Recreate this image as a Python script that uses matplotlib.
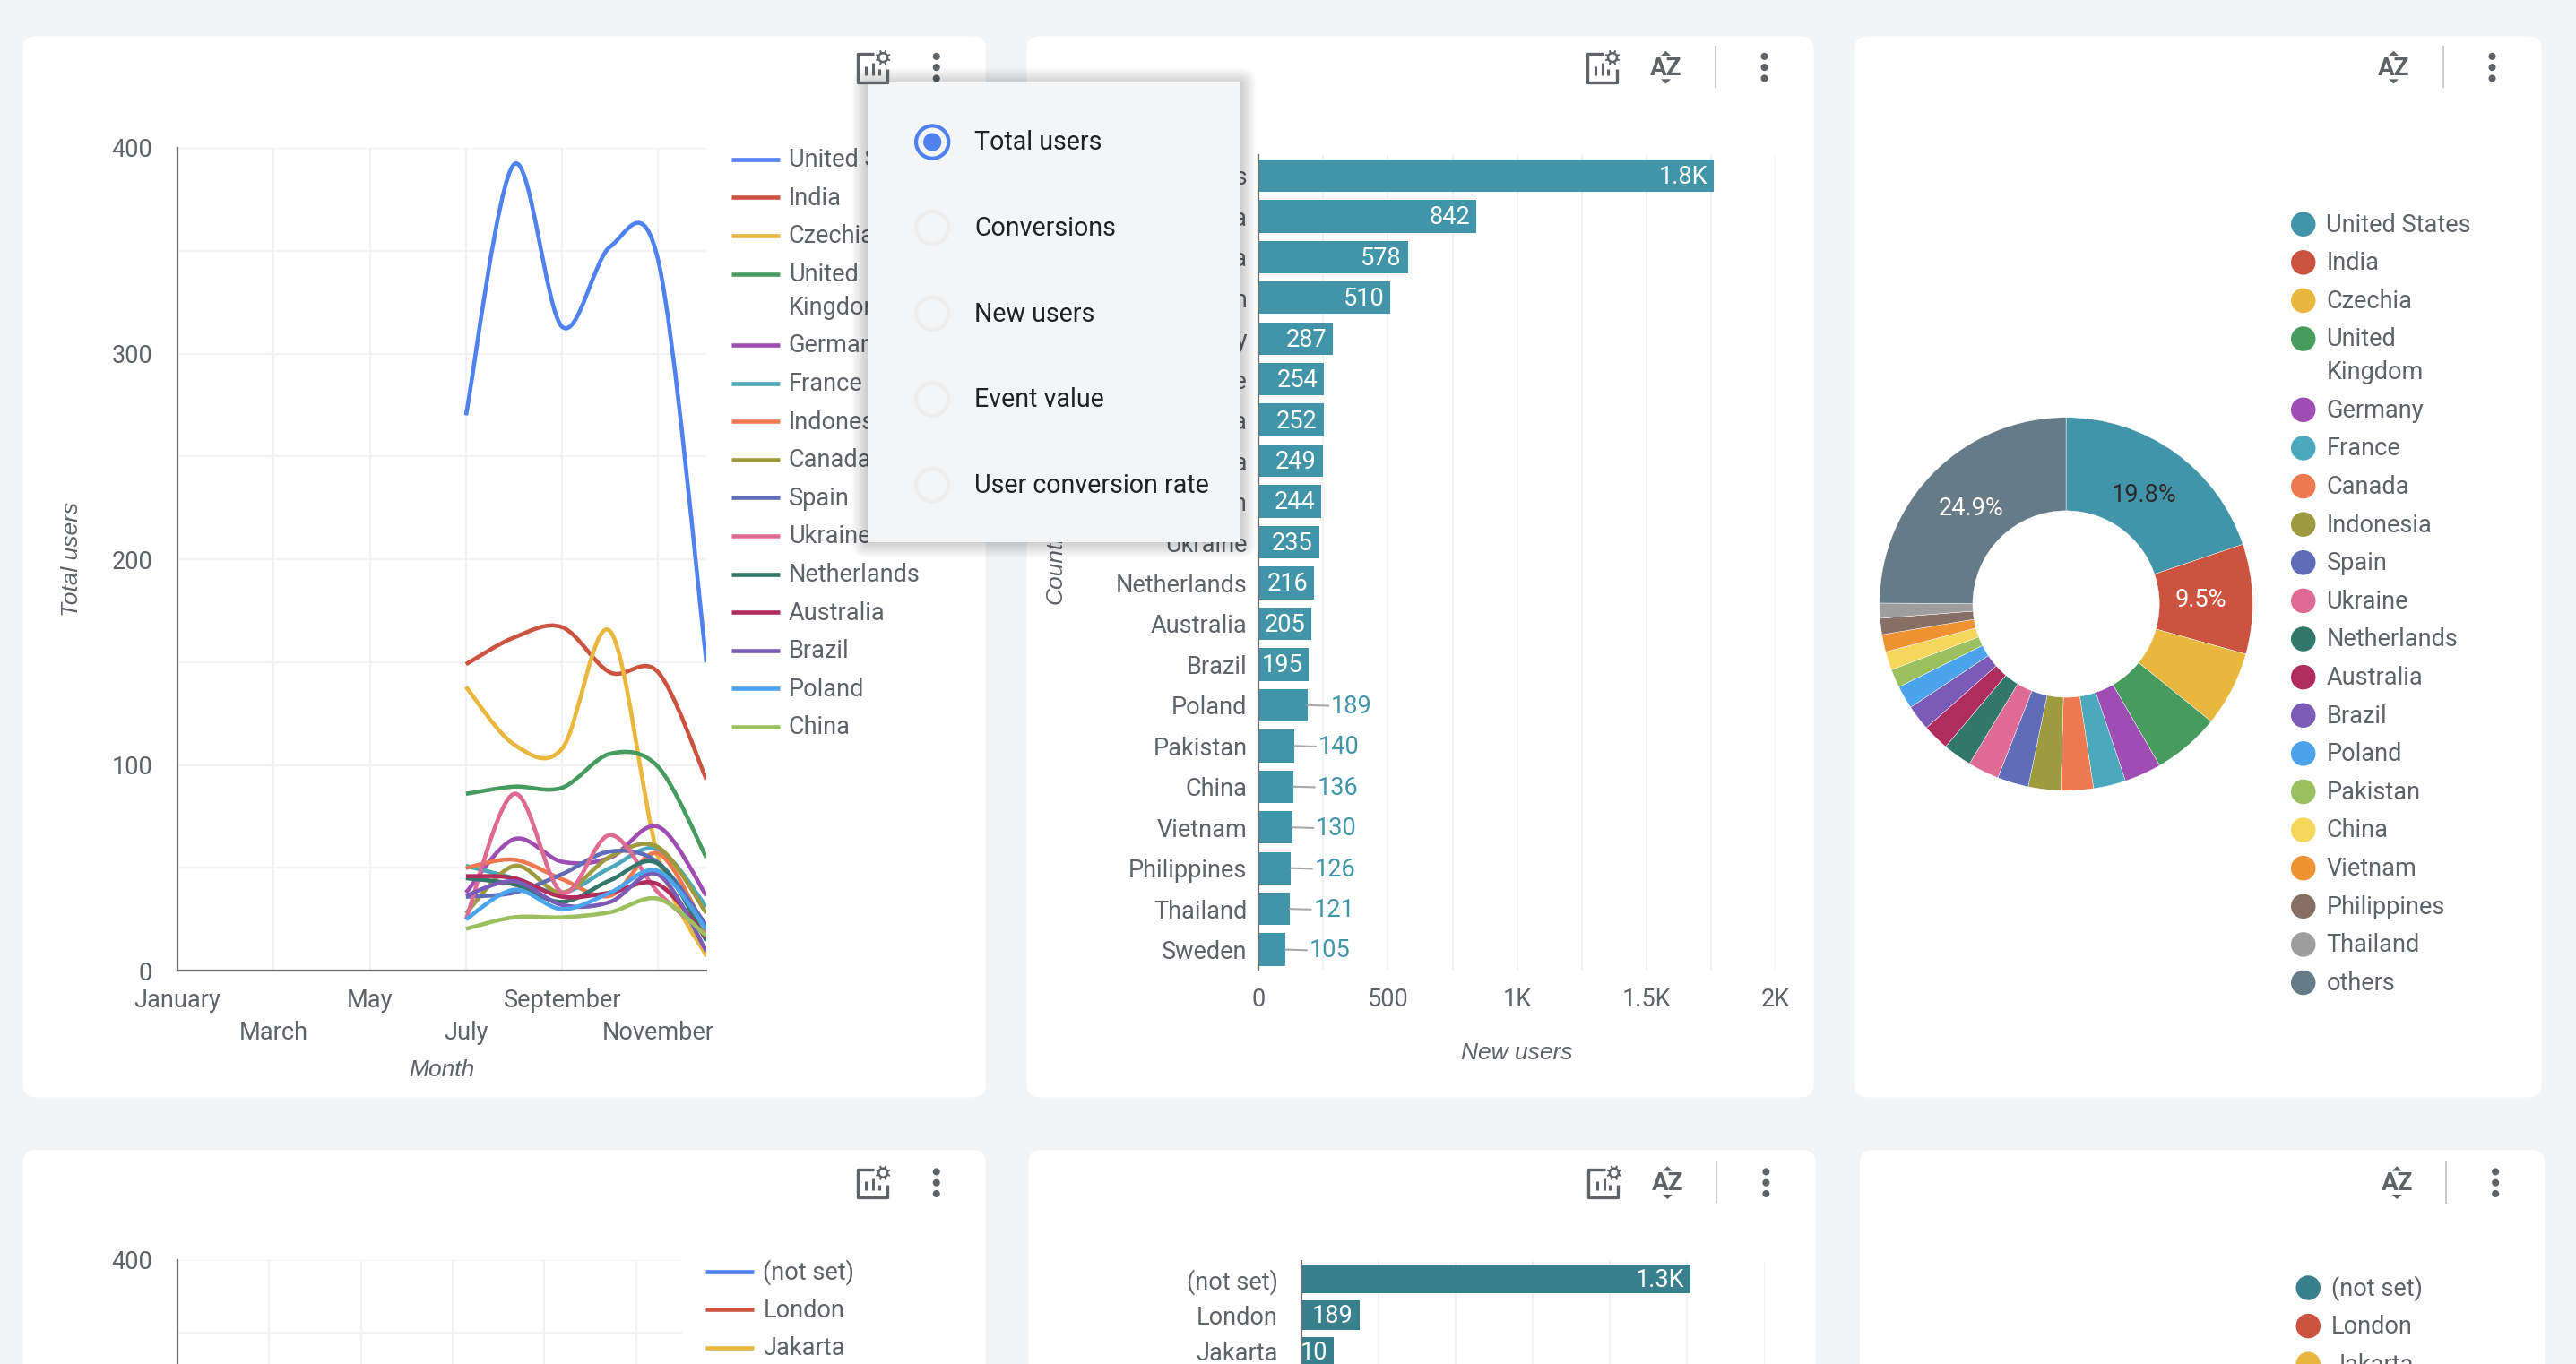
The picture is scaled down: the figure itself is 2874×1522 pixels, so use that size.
import math
import matplotlib
matplotlib.use("Agg")
import matplotlib.pyplot as plt
from matplotlib.patches import FancyBboxPatch, PathPatch, Circle, Rectangle, Polygon
from matplotlib.path import Path

plt.rcParams['font.family'] = ['Roboto', 'DejaVu Sans']

# data
months = ['January', 'March', 'May', 'July', 'September', 'November']
month_idx = [6, 7, 8, 9, 10, 11]   # July .. December

line_names = ['United States', 'India', 'Czechia', 'United Kingdom', 'Germany', 'France',
              'Indonesia', 'Canada', 'Spain', 'Ukraine', 'Netherlands', 'Australia',
              'Brazil', 'Poland', 'China']
line_colors = ['#4f82ee', '#cb5340', '#e9b63e', '#489b5f', '#9f4db2', '#4ba8bd',
               '#ee7850', '#9e9b3e', '#5f6cb8', '#df6a94', '#32786a', '#b02c5d',
               '#7a5bb8', '#4ba3ec', '#9bc05f']
us = [270, 392, 313, 352, 345, 150]
india = [149, 162, 167, 145, 145, 93]
czechia = [138, 110, 108, 165, 55, 7]
uk = [86, 89.5, 89, 105.5, 99, 55]
germany = [38, 64, 53, 55, 70, 36.5]
france = [51, 45, 38, 50, 59, 31]
indonesia = [50, 54, 44.5, 36.5, 57, 19]
canada = [28, 51, 38, 55.5, 60, 28]
spain = [36, 38, 47, 58, 52.5, 22]
ukraine = [25, 86, 38, 66, 38, 17.5]
netherlands = [45, 42, 33.5, 44, 52, 14.6]
australia = [46, 45, 36, 38, 42, 16]
brazil = [36.5, 43.5, 32, 33.5, 46.7, 9.5]
poland = [25, 39.4, 30, 38, 48.5, 20]
china = [20.4, 26, 26, 28.5, 35, 17]
line_series = [us, india, czechia, uk, germany, france, indonesia, canada, spain,
               ukraine, netherlands, australia, brazil, poland, china]

bar_names = ['United States', 'India', 'Czechia', 'United Kingdom', 'Germany', 'France',
             'Indonesia', 'Canada', 'Spain', 'Ukraine', 'Netherlands', 'Australia', 'Brazil',
             'Poland', 'Pakistan', 'China', 'Vietnam', 'Philippines', 'Thailand', 'Sweden']
bar_values = [1760, 842, 578, 510, 287, 254, 252, 249, 244, 235, 216, 205, 195,
              189, 140, 136, 130, 126, 121, 105]
bar_labels = ['1.8K', '842', '578', '510', '287', '254', '252', '249', '244', '235', '216',
              '205', '195', '189', '140', '136', '130', '126', '121', '105']

pie_names = ['United States', 'India', 'Czechia', 'United Kingdom', 'Germany', 'France',
             'Canada', 'Indonesia', 'Spain', 'Ukraine', 'Netherlands', 'Australia', 'Brazil',
             'Poland', 'Pakistan', 'China', 'Vietnam', 'Philippines', 'Thailand', 'others']
pie_values = [19.8, 9.5, 6.5, 5.8, 3.2, 2.8, 2.8, 2.8, 2.7, 2.7, 2.5, 2.3, 2.2, 2.0,
              1.6, 1.6, 1.5, 1.4, 1.3, 24.9]
pie_colors = ['#4295a8', '#cb5340', '#e9b63e', '#489b5f', '#9f4db2', '#4ba8bd', '#ee7850',
              '#9e9b3e', '#5f6cb8', '#df6a94', '#32786a', '#b02c5d', '#7a5bb8', '#4ba3ec',
              '#9bc05f', '#f5d75c', '#ee9232', '#876f66', '#9e9e9e', '#667b88']

city_names = ['(not set)', 'London', 'Jakarta']
city_values = [1261, 189, 106]
city_labels = ['1.3K', '189', '10']
city_line_colors = ['#4f82ee', '#cb5340', '#e9b63e']
city_pie_colors = ['#3a7f8e', '#cb5340', '#e9b63e']

menu_items = ['Total users', 'Conversions', 'New users', 'Event value', 'User conversion rate']

BG = '#f3f4f6'
TXT = '#5f6368'
GRID = '#f1f2f3'
AXIS = '#6f6f6f'
TEAL = '#4295a8'
FS = 19.5
LW = 3.3
W, H = 1568.0, 1568.0 * 1522 / 2874

fig = plt.figure(figsize=(28.74, 15.22), dpi=100, facecolor=BG)


def add_ax(left, top, right, bottom, z=1):
    return fig.add_axes([left / W, 1 - bottom / H, (right - left) / W, (bottom - top) / H],
                        facecolor='none', zorder=z)


def layer(z):
    a = fig.add_axes([0, 0, 1, 1], facecolor='none', zorder=z)
    a.set_xlim(0, W)
    a.set_ylim(H, 0)
    a.axis('off')
    return a


back = layer(0)
top = layer(5)


def card(x0, y0, x1, y1):
    back.add_patch(FancyBboxPatch((x0 + 8, y0 + 8), x1 - x0 - 16, y1 - y0 - 16,
                                  boxstyle='round,pad=8,rounding_size=8', fc='white', ec='none'))


def line_legend(x, y, names, colors, step=23.25):
    for n, c in zip(names, colors):
        back.plot([x, x + 29.5], [y, y], color=c, lw=LW, solid_capstyle='butt')
        parts = n.split(' ') if n == 'United Kingdom' else [n]
        for k, p in enumerate(parts):
            back.text(x + 35, y + 0.5 + k * 20, p, color=TXT, fontsize=FS, va='center')
        y += step + (len(parts) - 1) * 20


def dot_legend(x, y, names, colors, step=23.25):
    for n, c in zip(names, colors):
        back.add_patch(Circle((x, y), 7.5, fc=c, ec='none'))
        parts = n.split(' ') if n == 'United Kingdom' else [n]
        for k, p in enumerate(parts):
            back.text(x + 14, y + 0.5 + k * 20, p, color=TXT, fontsize=FS, va='center')
        y += step + (len(parts) - 1) * 20


def smooth(ax, xs, ys, color, k=1 / 6.0, z=3):
    # the source chart draws function curves, so each segment is a bezier
    verts = [(xs[0], ys[0])]
    codes = [Path.MOVETO]
    n = len(xs)
    for i in range(n - 1):
        a = max(i - 1, 0)
        b = min(i + 2, n - 1)
        verts.append((xs[i] + (xs[i + 1] - xs[a]) * k, ys[i] + (ys[i + 1] - ys[a]) * k))
        verts.append((xs[i + 1] - (xs[b] - xs[i]) * k, ys[i + 1] - (ys[b] - ys[i]) * k))
        verts.append((xs[i + 1], ys[i + 1]))
        codes += [Path.CURVE4] * 3
    ax.add_patch(PathPatch(Path(verts, codes), fill=False, ec=color, lw=LW,
                           capstyle='butt', zorder=z))


def style_axes(ax):
    for s in ['top', 'right']:
        ax.spines[s].set_visible(False)
    for s in ['left', 'bottom']:
        ax.spines[s].set_color(AXIS)
        ax.spines[s].set_linewidth(1.6)
    ax.tick_params(which='both', length=0, labelcolor=TXT, labelsize=FS)
    ax.grid(which='both', color=GRID, lw=1.6)
    ax.set_axisbelow(True)


def line_frame(ax, xlabels, ylabels):
    ax.set_xlim(0, 11)
    ax.set_ylim(0, 400)
    ax.set_xticks(range(0, 11, 2))
    ax.set_xticklabels(xlabels)
    ax.set_yticks(range(0, 401, 100))
    ax.set_yticklabels(ylabels)
    ax.set_yticks(range(50, 400, 100), minor=True)
    style_axes(ax)
    ax.tick_params(axis='y', pad=20)
    for i, t in enumerate(ax.xaxis.get_major_ticks()):
        t.set_pad(14 if i % 2 == 0 else 40)


def bars(ax, names, values, labels, color, inside_min, pad):
    ax.barh(range(len(values)), values, height=0.8, color=color, zorder=2)
    ax.set_yticks(range(len(names)))
    ax.set_yticklabels(names)
    style_axes(ax)
    ax.spines['bottom'].set_visible(False)
    ax.grid(axis='y', visible=False)
    ax.tick_params(axis='y', pad=pad)
    for i, (v, lab) in enumerate(zip(values, labels)):
        if v >= inside_min:
            ax.annotate(lab, (v, i), xytext=(-5, -1), textcoords='offset points', color='white',
                        fontsize=FS, ha='right', va='center', zorder=4)
        else:
            ax.annotate(lab, (v, i), xytext=(19, -1), textcoords='offset points', color=TEAL,
                        fontsize=FS, ha='left', va='center', zorder=4,
                        arrowprops=dict(arrowstyle='-', color='#a8a8a8', lw=1.5,
                                        shrinkA=0, shrinkB=0))


def chart_icon(x, y):
    c = '#5f6368'
    top.plot([x + 1, x - 9, x - 9, x + 9, x + 9], [y - 8, y - 8, y + 9, y + 9, y + 1],
             color=c, lw=2.4, solid_joinstyle='round', solid_capstyle='butt')
    for dx, h in [(-4, 5.5), (0.5, 7.5), (4, 3.6)]:
        top.plot([x + dx, x + dx], [y + 4.8, y + 4.8 - h], color=c, lw=2.2, solid_capstyle='butt')
    gx, gy = x + 6.5, y - 6
    for i in range(8):
        ang = i * math.pi / 4 + math.pi / 8
        top.plot([gx + 2.5 * math.cos(ang), gx + 4.6 * math.cos(ang)],
                 [gy + 2.5 * math.sin(ang), gy + 4.6 * math.sin(ang)], color=c, lw=1.5,
                 solid_capstyle='butt')
    top.add_patch(Circle((gx, gy), 2.7, fc='white', ec=c, lw=1.8))


def kebab(x, y):
    for dy in (-6.7, 0, 6.7):
        top.add_patch(Circle((x, y + dy), 2.2, fc='#5f6368', ec='none'))


def az_icon(x, y):
    c = '#5f6368'
    top.text(x, y + 0.5, 'AZ', color=c, fontsize=20, fontweight='bold', ha='center', va='center')
    top.add_patch(Polygon([(x - 3, y - 7.2), (x + 3, y - 7.2), (x, y - 10)], fc=c, ec='none'))
    top.add_patch(Polygon([(x - 3, y + 7.2), (x + 3, y + 7.2), (x, y + 10)], fc=c, ec='none'))


def divider(x, y):
    top.plot([x, x], [y - 12.5, y + 12], color='#c8cacc', lw=1.4)


# cards
card(14, 22, 600, 668)
card(625, 22, 1104, 668)
card(1129, 22, 1547, 668)
card(14, 700, 600, 880)
card(626, 700, 1105, 880)
card(1132, 700, 1549, 880)

# top left, total users by month
ax1 = add_ax(108, 90, 430, 591)
line_frame(ax1, months, ['0', '100', '200', '300', '400'])
for vals, col in zip(line_series, line_colors):
    smooth(ax1, month_idx, vals, col)
ax1.set_xlabel('Month', family='Liberation Sans', style='italic', color=TXT, fontsize=19, labelpad=12)
ax1.set_ylabel('Total users', family='Liberation Sans', style='italic', color=TXT, fontsize=19, labelpad=23)
line_legend(445, 97, line_names, line_colors)

# top middle, new users by country
ax2 = add_ax(766, 94.5, 1081, 590.5)
bars(ax2, bar_names, bar_values, bar_labels, TEAL, 190, 9)
ax2.set_xlim(0, 2000)
ax2.set_ylim(19.5, -0.5)
ax2.set_xticks(range(0, 2001, 500))
ax2.set_xticklabels(['0', '500', '1K', '1.5K', '2K'])
ax2.set_xticks(range(250, 2000, 500), minor=True)
ax2.tick_params(axis='x', pad=14)
ax2.set_xlabel('New users', family='Liberation Sans', style='italic', color=TXT, fontsize=19, labelpad=25)
ax2.set_ylabel('Country', family='Liberation Sans', style='italic', color=TXT, fontsize=19, labelpad=6.5)

# top right, donut
ax3 = add_ax(1257.6 - 113.6, 367.7 - 113.6, 1257.6 + 113.6, 367.7 + 113.6)
wedges, texts, autos = ax3.pie(pie_values, colors=pie_colors, startangle=90, counterclock=False,
                               radius=1, wedgeprops=dict(width=0.5, edgecolor='white', linewidth=0.3),
                               autopct=lambda p: f'{p:.1f}%' if p > 9 else '', pctdistance=0.72,
                               textprops=dict(fontsize=FS))
ax3.set_xlim(-1, 1)
ax3.set_ylim(-1, 1)
for t in autos:
    t.set_color('#ffffff')
autos[0].set_color('#2b2b2b')
dot_legend(1402, 136.5, pie_names, pie_colors)

# bottom left, only the top of this chart is on screen
ax4 = add_ax(108, 767, 415, 1123)
line_frame(ax4, [''] * 6, ['', '', '', '', '400'])
line_legend(429.5, 774, city_names, city_line_colors)

# bottom middle
ax5 = add_ax(792, 767.7, 1074, 1207.7)
bars(ax5, city_names, city_values, city_labels, city_pie_colors[0], 100, 18.5)
ax5.set_xlim(0, 1500)
ax5.set_ylim(19.5, -0.5)
ax5.set_xticks(range(0, 1501, 250))
ax5.set_xticklabels([])

# bottom right
dot_legend(1405, 784, city_names, city_pie_colors)

# toolbar icons
for x, y in [(531, 41), (975, 41), (531, 720), (976, 720)]:
    chart_icon(x, y)
for x, y in [(570, 41), (1074, 41), (1517, 41), (570, 720), (1075, 720), (1519, 720)]:
    kebab(x, y)
for x, y in [(1014, 41), (1457, 41), (1015, 720), (1459, 720)]:
    az_icon(x, y)
for x, y in [(1044, 41), (1487, 41), (1045, 720), (1489, 720)]:
    divider(x, y)

# dropdown menu over the first chart
for i in range(12, 0, -1):
    top.add_patch(FancyBboxPatch((528, 51), 227, 279, boxstyle=f'round,pad={i * 0.8},rounding_size={i * 0.8}',
                                 fc='black', ec='none', alpha=0.017))
top.add_patch(Rectangle((528, 50), 227, 280, fc='#f4f5f7', ec='none'))
for i, item in enumerate(menu_items):
    y = 86.5 + i * 52.2
    if i == 0:
        top.add_patch(Circle((567.5, y), 9.9, fc='none', ec='#4f82ee', lw=3))
        top.add_patch(Circle((567.5, y), 5.5, fc='#4f82ee', ec='none'))
    else:
        top.add_patch(Circle((567.5, y), 9.9, fc='none', ec='#eeeeef', lw=3))
    top.text(593, y + 0.5, item, color='#202124', fontsize=20.6, va='center')

fig.savefig('out.png', dpi=100, facecolor=BG)
